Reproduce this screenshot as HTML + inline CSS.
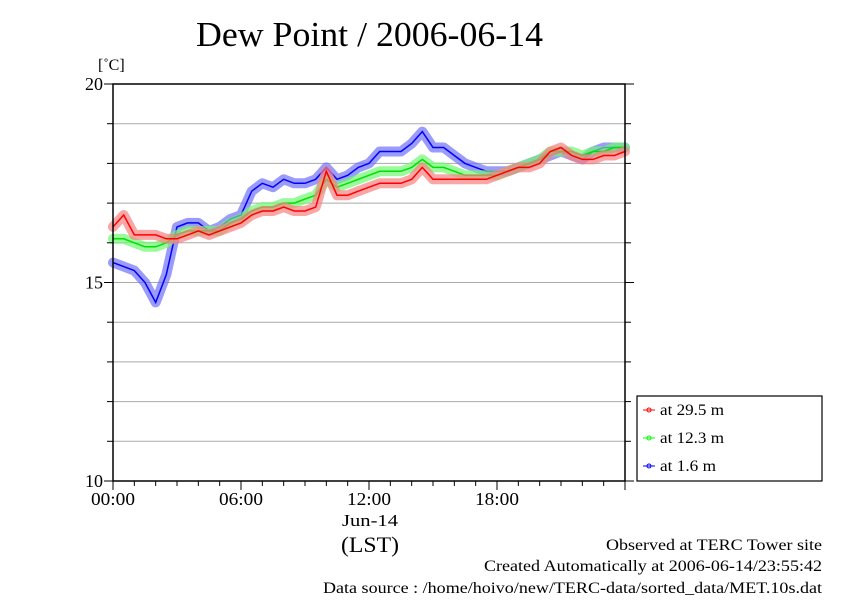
<!DOCTYPE html>
<html><head><meta charset="utf-8"><style>
body{margin:0;background:#fff}
svg text{font-family:"Liberation Serif",serif;fill:#000}
</style></head><body>
<svg id="c" width="842" height="595" xmlns="http://www.w3.org/2000/svg">
<text x="196" y="46" font-size="35" textLength="347" lengthAdjust="spacingAndGlyphs">Dew Point / 2006-06-14</text>
<text x="98" y="70" font-size="16">[˚C]</text>
<g id="grid"></g>
<g id="series"></g>
<rect x="113" y="84" width="512" height="397" fill="none" stroke="#000" stroke-width="1.5"/>
<g id="axes"></g>
<text x="342" y="526" font-size="17" textLength="56" lengthAdjust="spacingAndGlyphs">Jun-14</text>
<text x="341" y="552" font-size="22" textLength="58" lengthAdjust="spacingAndGlyphs">(LST)</text>
<g>
<rect x="637" y="396" width="185" height="85" fill="#fff" stroke="#000" stroke-width="1.2"/>
<g><line x1="643" y1="410" x2="655" y2="410" stroke="#f00"/><circle cx="649" cy="410" r="2" fill="none" stroke="#f00"/><text x="660" y="415" font-size="16" textLength="64" lengthAdjust="spacingAndGlyphs">at 29.5 m</text></g>
<g><line x1="643" y1="438" x2="655" y2="438" stroke="#0f0"/><circle cx="649" cy="438" r="2" fill="none" stroke="#0f0"/><text x="660" y="443" font-size="16" textLength="64" lengthAdjust="spacingAndGlyphs">at 12.3 m</text></g>
<g><line x1="643" y1="466" x2="655" y2="466" stroke="#00f"/><circle cx="649" cy="466" r="2" fill="none" stroke="#00f"/><text x="660" y="471" font-size="16" textLength="56" lengthAdjust="spacingAndGlyphs">at 1.6 m</text></g>
</g>
<text x="606" y="550" font-size="16" textLength="216" lengthAdjust="spacingAndGlyphs">Observed at TERC Tower site</text>
<text x="484" y="571" font-size="16" textLength="338" lengthAdjust="spacingAndGlyphs">Created Automatically at 2006-06-14/23:55:42</text>
<text x="323" y="593" font-size="16" textLength="499" lengthAdjust="spacingAndGlyphs">Data source : /home/hoivo/new/TERC-data/sorted_data/MET.10s.dat</text>
</svg>
<script>
const hours=[0,0.5,1,1.5,2,2.5,3,3.5,4,4.5,5,5.5,6,6.5,7,7.5,8,8.5,9,9.5,10,10.5,11,11.5,12,12.5,13,13.5,14,14.5,15,15.5,16,16.5,17,17.5,18,18.5,19,19.5,20,20.5,21,21.5,22,22.5,23,23.5,24];
const blue=[15.5,15.4,15.3,15.0,14.5,15.2,16.4,16.5,16.5,16.3,16.4,16.6,16.7,17.3,17.5,17.4,17.6,17.5,17.5,17.6,17.9,17.6,17.7,17.9,18.0,18.3,18.3,18.3,18.5,18.8,18.4,18.4,18.2,18.0,17.9,17.8,17.8,17.8,17.9,18.0,18.1,18.2,18.3,18.2,18.1,18.3,18.4,18.4,18.4];
const green=[16.1,16.1,16.0,15.9,15.9,16.0,16.2,16.3,16.3,16.3,16.3,16.5,16.6,16.8,16.9,16.9,17.0,17.0,17.1,17.2,17.6,17.4,17.5,17.6,17.7,17.8,17.8,17.8,17.9,18.1,17.9,17.9,17.8,17.7,17.7,17.7,17.7,17.8,17.9,18.0,18.1,18.3,18.3,18.3,18.2,18.3,18.3,18.4,18.4];
const red=[16.4,16.7,16.2,16.2,16.2,16.1,16.1,16.2,16.3,16.2,16.3,16.4,16.5,16.7,16.8,16.8,16.9,16.8,16.8,16.9,17.8,17.2,17.2,17.3,17.4,17.5,17.5,17.5,17.6,17.9,17.6,17.6,17.6,17.6,17.6,17.6,17.7,17.8,17.9,17.9,18.0,18.3,18.4,18.2,18.1,18.1,18.2,18.2,18.3];
const yTicks=[10,15,20];
const xTicks=[0,6,12,18];
const xTickLabels=["00:00","06:00","12:00","18:00"];
const NS="http://www.w3.org/2000/svg";
const X=h=>113+h/24*512, Y=v=>481-(v-10)*39.7;
function mk(t,a,p){const e=document.createElementNS(NS,t);for(const k in a)e.setAttribute(k,a[k]);p.appendChild(e);return e;}
const grid=document.getElementById('grid'),axes=document.getElementById('axes'),ser=document.getElementById('series');
for(let v=11;v<20;v++){const l=mk('line',{x1:113,x2:625,y1:Y(v),y2:Y(v),stroke:'#aaa','stroke-width':1},grid);

}
for(let v=10;v<=20;v++){const big=yTicks.includes(v);mk('line',{x1:big?104:107,x2:113,y1:Y(v),y2:Y(v),stroke:'#000'},axes);mk('line',{x1:625,x2:big?634:631,y1:Y(v),y2:Y(v),stroke:'#000'},axes);}
yTicks.forEach(v=>{const t=mk('text',{x:103,y:Y(v)+6,'font-size':18,'text-anchor':'end'},axes);t.textContent=v;

});
for(let h=0;h<=24;h++){const big=h%6==0;mk('line',{x1:X(h),x2:X(h),y1:481,y2:big?490:486,stroke:'#000'},axes);}
xTicks.forEach((h,i)=>{const t=mk('text',{x:X(h)-22,y:505,'font-size':18,textLength:44,lengthAdjust:'spacingAndGlyphs'},axes);t.textContent=xTickLabels[i];

});
function draw(vals,light,dark,name){
 const pts=hours.map((h,i)=>X(h).toFixed(1)+','+Y(vals[i]).toFixed(1)).join(' ');
 const b=mk('polyline',{points:pts,fill:'none',stroke:light,'stroke-width':10,'stroke-linejoin':'round','stroke-linecap':'round',opacity:0.7},ser);
 
 
 const l=mk('polyline',{points:pts,fill:'none',stroke:dark,'stroke-width':1.5},ser);
 
 
}
draw(blue,'#7070f8','#0000ff','series-1-6m');
draw(green,'#70f870','#00e000','series-12-3m');
draw(red,'#f88080','#ff0000','series-29-5m');
</script>
</body></html>
